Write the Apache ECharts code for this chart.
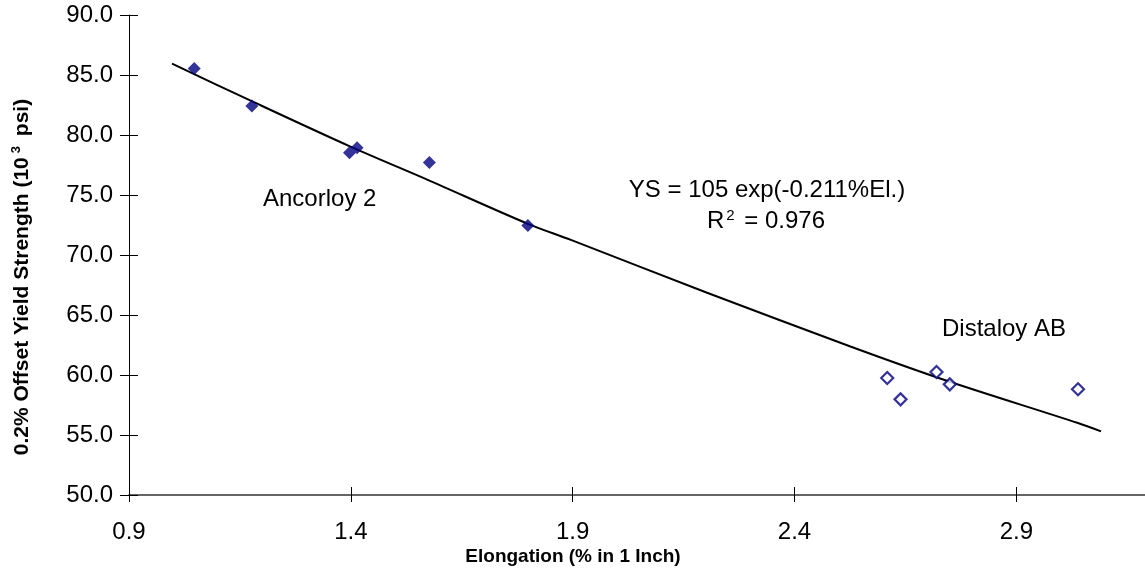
<!DOCTYPE html>
<html>
<head>
<meta charset="utf-8">
<script src="https://cdn.jsdelivr.net/npm/echarts@6/dist/echarts.min.js"></script>
<style>html,body{margin:0;padding:0;background:#fff}#c{width:1145px;height:571px}</style>
</head>
<body>
<div id="c"></div>
<script>
// Data
const ancorloyX = [1.047, 1.177, 1.397, 1.414, 1.577, 1.799];
const ancorloyY = [85.55, 82.41, 78.52, 78.93, 77.71, 72.46];
const distaloyX = [2.609, 2.639, 2.720, 2.750, 3.039];
const distaloyY = [59.75, 57.97, 60.25, 59.22, 58.81];
// Trend line points
const trendX = [0.997, 1.173, 1.398, 1.577, 1.799, 1.896, 2.2, 2.526, 2.75, 3.039, 3.091];
const trendY = [85.94, 82.88, 79.05, 76.2, 72.6, 71.26, 66.9, 62.38, 59.44, 56.0, 55.3];
const xTicks = [0.9, 1.4, 1.9, 2.4, 2.9];
const yTicks = [50, 55, 60, 65, 70, 75, 80, 85, 90];

const zip = (a, b) => a.map((v, i) => [v, b[i]]);
const F = 'Liberation Sans, Arial, sans-serif';
const chart = echarts.init(document.getElementById('c'));
const gridL = 129, gridT = 15, gridB = 76;

const baseX = {
  type: 'value', min: xTicks[0], max: 3.19, interval: 0.5,
  splitLine: {show: false}
};
const baseY = {
  type: 'value', min: yTicks[0], max: yTicks[yTicks.length - 1], interval: 5,
  splitLine: {show: false}
};

chart.setOption({
  animation: false,
  grid: {left: gridL, right: 0, top: gridT, bottom: gridB, containLabel: false},
  xAxis: [
    Object.assign({}, baseX, {
      position: 'bottom',
      axisLine: {lineStyle: {color: '#333', width: 1.5}},
      axisTick: {length: 7, lineStyle: {color: '#000'}},
      axisLabel: {showMaxLabel: false, color: '#000', fontFamily: F, fontSize: 24, margin: 25,
        formatter: v => v.toFixed(1)}
    }),
    Object.assign({}, baseX, {
      position: 'bottom',
      axisLine: {show: false},
      axisTick: {inside: true, length: 8, lineStyle: {color: '#000'}},
      axisLabel: {show: false}
    })
  ],
  yAxis: [
    Object.assign({}, baseY, {
      position: 'left',
      axisLine: {lineStyle: {color: '#000', width: 1}},
      axisTick: {length: 9, lineStyle: {color: '#000'}},
      axisLabel: {color: '#000', fontFamily: F, fontSize: 24, margin: 16,
        formatter: v => v.toFixed(1)}
    }),
    Object.assign({}, baseY, {
      position: 'left',
      axisLine: {show: false},
      axisTick: {inside: true, length: 9, lineStyle: {color: '#000'}},
      axisLabel: {show: false}
    })
  ],
  series: [
    {
      type: 'line', data: zip(trendX, trendY), smooth: 0.3, symbol: 'none',
      lineStyle: {color: '#000', width: 2}, z: 2
    },
    {
      type: 'scatter', data: zip(ancorloyX, ancorloyY), symbol: 'diamond',
      symbolSize: 13, itemStyle: {color: '#000080'}, z: 3
    },
    {
      type: 'scatter', data: zip(distaloyX, distaloyY), symbol: 'diamond',
      symbolSize: 12, itemStyle: {color: '#fff', borderColor: '#000080', borderWidth: 2.2}, z: 3
    }
  ],
  graphic: [
    {type: 'text', x: 263, y: 199, style: {text: 'Ancorloy 2', font: '24px ' + F, fill: '#000',
      verticalAlign: 'middle'}},
    {type: 'text', x: 767, y: 190, style: {text: 'YS = 105 exp(-0.211%El.)', font: '24px ' + F,
      fill: '#000', align: 'center', verticalAlign: 'middle'}},
    {type: 'text', x: 766, y: 221, style: {text: 'R{sup|2} = 0.976', font: '24px ' + F,
      fill: '#000', align: 'center', verticalAlign: 'middle',
      rich: {sup: {fontSize: 15, fontFamily: F, verticalAlign: 'top', padding: [0, 3, 11, 2]}}}},
    {type: 'text', x: 1004, y: 329, style: {text: 'Distaloy AB', font: '24px ' + F,
      fill: '#000', align: 'center', verticalAlign: 'middle'}},
    {type: 'text', x: 573, y: 557, style: {text: 'Elongation (% in 1 Inch)', font: 'bold 19px ' + F,
      fill: '#000', align: 'center', verticalAlign: 'middle'}},
    {type: 'text', x: 22, y: 277, rotation: Math.PI / 2, style: {
      text: '0.2% Offset Yield Strength (10{sup|3} psi)', font: 'bold 21px ' + F,
      fill: '#000', align: 'center', verticalAlign: 'middle',
      rich: {sup: {fontSize: 13, fontWeight: 'bold', fontFamily: F, verticalAlign: 'top', padding: [0, 4, 11, 4]}}}}
  ]
});
</script>
</body>
</html>
